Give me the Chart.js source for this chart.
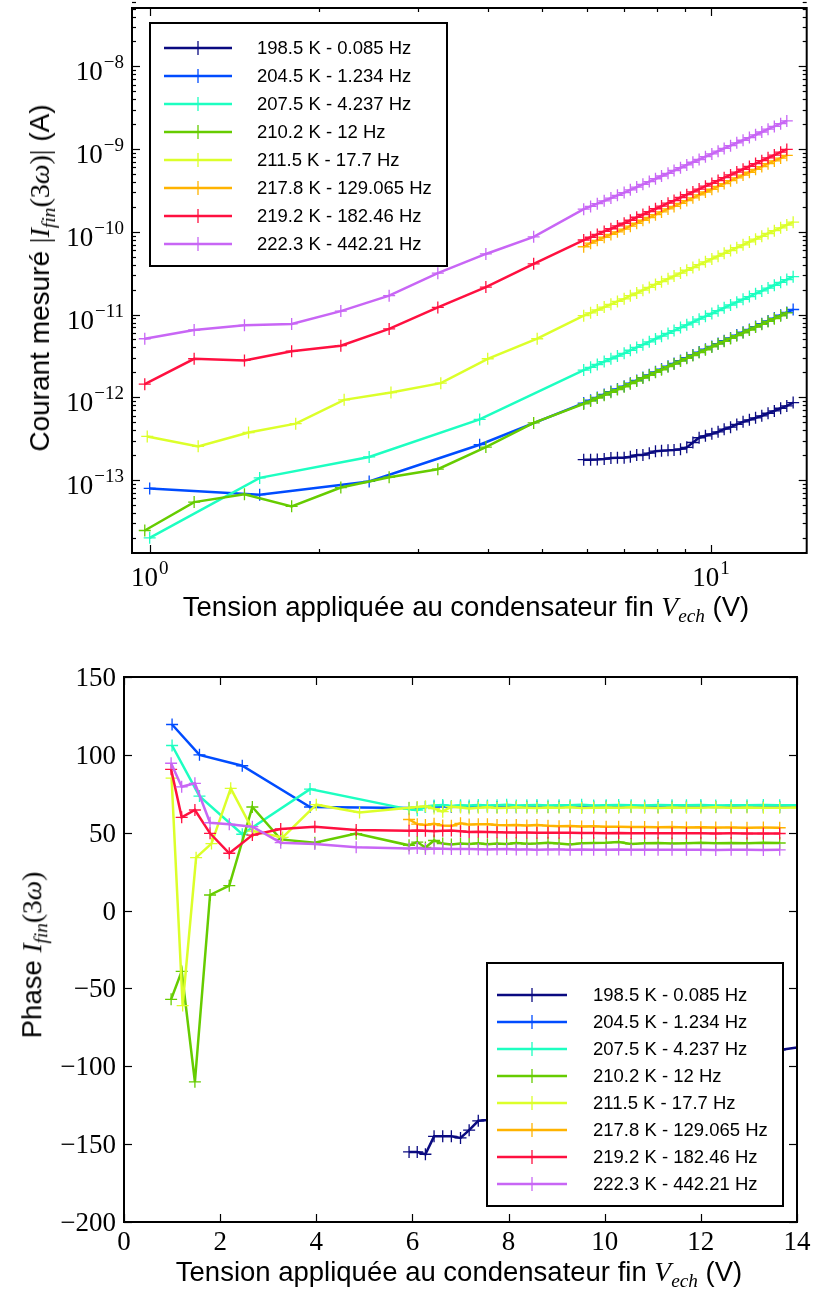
<!DOCTYPE html>
<html>
<head>
<meta charset="utf-8">
<script src="https://cdn.jsdelivr.net/npm/chart.js@4.4.0/dist/chart.umd.min.js"></script>
<style>
  body { margin: 0; background: #fff; width: 814px; height: 1291px; position: relative; overflow: hidden; }
  canvas { position: absolute; left: 0; }
  .ttl { position: absolute; font-family: "Liberation Sans", Arial, sans-serif; font-size: 27.5px; color: #000; white-space: nowrap; line-height: 1; }
  .rot { transform: translate(-50%, -50%) rotate(-90deg); }
  .hc { transform: translate(-50%, -50%); }
  .m { font-family: "Liberation Serif", serif; }
  .m i { font-style: italic; }
  .m sub { font-size: 0.7em; vertical-align: -0.3em; line-height: 0; }
</style>
</head>
<body>
<canvas id="amp" width="814" height="640" style="top:0"></canvas>
<canvas id="phase" width="814" height="651" style="top:640px"></canvas>

<div class="ttl rot" style="left:40px; top:278px; font-size:28px">Courant mesuré <span class="m">|<i>I</i><sub><i>fin</i></sub>(3<i>ω</i>)|</span> (A)</div>
<div class="ttl hc" style="left:466px; top:607px">Tension appliquée au condensateur fin <span class="m"><i>V</i><sub><i>ech</i></sub></span> (V)</div>
<div class="ttl rot" style="left:32px; top:955px">Phase <span class="m"><i>I</i><sub><i>fin</i></sub>(3<i>ω</i>)</span></div>
<div class="ttl hc" style="left:459px; top:1272px">Tension appliquée au condensateur fin <span class="m"><i>V</i><sub><i>ech</i></sub></span> (V)</div>

<script>
// series labels and colours
const labels = ["198.5 K - 0.085 Hz", "204.5 K - 1.234 Hz", "207.5 K - 4.237 Hz", "210.2 K - 12 Hz",
                "211.5 K - 17.7 Hz", "217.8 K - 129.065 Hz", "219.2 K - 182.46 Hz", "222.3 K - 442.21 Hz"];
const colors = ["#0a0a80", "#004cff", "#1dffc1", "#66cc00", "#dcff2a", "#ffb300", "#ff1040", "#c866f5"];

// applied voltages (V)
const vLowBC = [1.0, 1.57, 2.46, 3.87];
const vLowGRP = [0.98, 1.2, 1.475, 1.79, 2.19, 2.67, 3.26, 3.97, 4.83];
const vLowY = [0.99, 1.22, 1.5, 1.82, 2.22, 2.69, 3.3, 4.0, 4.9];
const denseV = [5.93, 6.10, 6.27, 6.45, 6.63, 6.81, 7.00, 7.18, 7.37, 7.56, 7.76, 7.96, 8.16, 8.38, 8.59, 8.82, 9.05,
                9.28, 9.52, 9.77, 10.03, 10.29, 10.55, 10.83, 11.11, 11.40, 11.70, 12.00, 12.31, 12.63, 12.96, 13.30, 13.64, 14.00];

// measured current |I_fin(3w)| (A)
const ampNavy = [1.76e-13, 1.76e-13, 1.77e-13, 1.79e-13, 1.84e-13, 1.86e-13, 1.86e-13, 1.91e-13, 2.0e-13, 2.0e-13,
  2.11e-13, 2.23e-13, 2.25e-13, 2.28e-13, 2.3e-13, 2.36e-13, 2.48e-13, 2.84e-13, 3.24e-13, 3.42e-13,
  3.61e-13, 3.82e-13, 4.11e-13, 4.35e-13, 4.69e-13, 5.05e-13, 5.33e-13, 5.64e-13, 5.96e-13, 6.41e-13,
  6.84e-13, 7.36e-13, 7.86e-13, 8.63e-13];
const ampBlue = [7.9e-14, 6.65e-14, 9.6e-14, 2.67e-13,
  8.51e-13, 9.20e-13, 9.96e-13, 1.08e-12, 1.17e-12, 1.26e-12, 1.36e-12, 1.48e-12, 1.60e-12, 1.73e-12,
  1.87e-12, 2.03e-12, 2.19e-12, 2.37e-12, 2.56e-12, 2.78e-12, 3.01e-12, 3.25e-12, 3.52e-12, 3.81e-12,
  4.12e-12, 4.46e-12, 4.82e-12, 5.22e-12, 5.65e-12, 6.11e-12, 6.61e-12, 7.16e-12, 7.74e-12, 8.38e-12,
  9.06e-12, 9.81e-12, 1.06e-11, 1.15e-11];
const ampCyan = [2.0e-14, 1.06e-13, 1.9e-13, 5.4e-13,
  2.13e-12, 2.30e-12, 2.49e-12, 2.70e-12, 2.92e-12, 3.15e-12, 3.40e-12, 3.70e-12, 4.0e-12, 4.32e-12,
  4.68e-12, 5.07e-12, 5.48e-12, 5.92e-12, 6.40e-12, 6.95e-12, 7.52e-12, 8.12e-12, 8.80e-12, 9.52e-12,
  1.03e-11, 1.115e-11, 1.205e-11, 1.305e-11, 1.41e-11, 1.53e-11, 1.65e-11, 1.79e-11, 1.93e-11, 2.09e-11,
  2.26e-11, 2.45e-11, 2.65e-11, 2.87e-11];
const ampGreen = [2.45e-14, 5.4e-14, 6.7e-14, 4.8e-14, 8.1e-14, 1.08e-13, 1.35e-13, 2.5e-13, 4.9e-13,
  8.3e-13, 9.0e-13, 9.8e-13, 1.06e-12, 1.15e-12, 1.24e-12, 1.34e-12, 1.46e-12, 1.57e-12, 1.71e-12,
  1.84e-12, 2.0e-12, 2.15e-12, 2.34e-12, 2.52e-12, 2.74e-12, 2.96e-12, 3.2e-12, 3.47e-12, 3.75e-12,
  4.06e-12, 4.4e-12, 4.75e-12, 5.15e-12, 5.56e-12, 6.02e-12, 6.5e-12, 7.05e-12, 7.62e-12, 8.25e-12,
  8.92e-12, 9.66e-12, 1.045e-11];
const ampYellow = [3.36e-13, 2.55e-13, 3.75e-13, 4.8e-13, 9.3e-13, 1.14e-12, 1.48e-12, 2.92e-12, 5.1e-12,
  9.7e-12, 1.05e-11, 1.135e-11, 1.23e-11, 1.33e-11, 1.44e-11, 1.55e-11, 1.69e-11, 1.82e-11, 1.97e-11,
  2.13e-11, 2.31e-11, 2.50e-11, 2.70e-11, 2.92e-11, 3.17e-11, 3.43e-11, 3.70e-11, 4.01e-11, 4.34e-11,
  4.70e-11, 5.08e-11, 5.49e-11, 5.95e-11, 6.44e-11, 6.97e-11, 7.54e-11, 8.16e-11, 8.82e-11, 9.55e-11,
  1.033e-10, 1.118e-10, 1.21e-10, 1.31e-10];
const ampOrange = [6.6e-11, 7.3e-11, 7.9e-11, 8.6e-11, 9.3e-11, 1.0e-10, 1.08e-10, 1.17e-10, 1.27e-10, 1.38e-10,
  1.49e-10, 1.61e-10, 1.74e-10, 1.89e-10, 2.03e-10, 2.21e-10, 2.39e-10, 2.58e-10, 2.80e-10, 3.03e-10,
  3.27e-10, 3.54e-10, 3.83e-10, 4.15e-10, 4.49e-10, 4.85e-10, 5.25e-10, 5.69e-10, 6.15e-10, 6.66e-10,
  7.20e-10, 7.79e-10, 8.42e-10];
const ampRed = [1.44e-12, 2.92e-12, 2.79e-12, 3.6e-12, 4.2e-12, 6.7e-12, 1.22e-11, 2.15e-11, 4.1e-11,
  7.96e-11, 8.60e-11, 9.31e-11, 1.01e-10, 1.09e-10, 1.18e-10, 1.27e-10, 1.38e-10, 1.50e-10, 1.62e-10,
  1.75e-10, 1.90e-10, 2.05e-10, 2.22e-10, 2.39e-10, 2.60e-10, 2.81e-10, 3.04e-10, 3.29e-10, 3.56e-10,
  3.85e-10, 4.17e-10, 4.51e-10, 4.88e-10, 5.28e-10, 5.71e-10, 6.18e-10, 6.69e-10, 7.24e-10, 7.84e-10,
  8.47e-10, 9.17e-10, 9.91e-10];
const ampPurple = [5.1e-12, 6.5e-12, 7.4e-12, 7.7e-12, 1.1e-11, 1.69e-11, 3.16e-11, 5.4e-11, 8.7e-11,
  1.88e-10, 2.03e-10, 2.19e-10, 2.37e-10, 2.56e-10, 2.76e-10, 2.98e-10, 3.22e-10, 3.48e-10, 3.75e-10,
  4.05e-10, 4.38e-10, 4.73e-10, 5.10e-10, 5.51e-10, 5.95e-10, 6.43e-10, 6.94e-10, 7.49e-10, 8.09e-10,
  8.74e-10, 9.44e-10, 1.02e-9, 1.10e-9, 1.19e-9, 1.28e-9, 1.38e-9, 1.49e-9, 1.61e-9, 1.74e-9,
  1.88e-9, 2.03e-9, 2.19e-9];

// phase of I_fin(3w) (degrees)
const phNavy = [-155, -155, -156.5, -145, -145, -145, -146, -141, -135, -134.5,
  -132, -130, -128, -125, -123, -121, -118, -116, -114, -112,
  -110, -108, -106, -104, -102, -100, -99, -97, -95, -94,
  -92, -91, -89.5, -88];
const phBlue = [119.5, 100, 93, 66.5,
  65.8, 66.2, 66.5, 66.8, 67, 66.5, 66.8, 66.4, 66.6, 66.8, 66.5, 66.7, 66.4, 66.6, 66.8, 66.5, 66.7,
  66.6, 66.4, 66.6, 66.8, 66.5, 66.7, 66.6, 66.5, 66.7, 66.6, 66.8, 66.5, 66.7, 66.6, 66.7, 66.5, 66.6];
const phCyan = [106, 73.5, 49, 78,
  65, 64.5, 66.5, 67.5, 67.8, 67.2, 67.6, 67.4, 67.8, 67.5, 67.7, 67.9, 67.4, 67.6, 67.8, 67.5, 67.7,
  67.6, 67.9, 67.5, 67.7, 67.8, 67.6, 67.5, 67.8, 67.7, 67.6, 67.8, 67.5, 67.7, 67.6, 67.8, 67.6, 67.7];
const phGreen = [-57, -39, -110, 10, 16, 66.5, 45.7, 43.6, 49.4,
  41.9, 44, 40.5, 45, 43, 42.5, 43, 42.8, 43.2, 42.6, 43, 42.8, 43.4, 42.9, 43.1, 43.6, 43, 42.5,
  43.2, 43.4, 43.6, 44, 42.8, 43.2, 43.4, 43.1, 43.3, 43.5, 43.2, 43.4, 43.3, 43.5, 43.4];
const phYellow = [85, -61, 34, 43, 78.5, 51, 47, 68, 63,
  66, 66.5, 67, 65.5, 63.5, 66.8, 66.2, 65.6, 66, 66.4, 65.8, 66, 66.3, 66.1, 65.9, 66.2, 66, 66.3,
  65.9, 66.1, 66.2, 66, 66.3, 66.1, 65.9, 66.2, 66, 66.1, 66.3, 66, 66.2, 66.1, 66, 66.2];
const phOrange = [58.5, 55.5, 55, 55.8, 54.6, 54.4, 56, 55.2, 55.4, 55.5, 55, 54.8, 55, 54.6, 55, 54.5,
  54.2, 54.3, 54, 54.1, 53.8, 53.9, 53.6, 53.7, 53.5, 53.6, 53.4, 53.5, 53.3, 53.4, 53.2, 53.3, 53.2];
const phRed = [90.7, 59.9, 64.6, 49.6, 36.8, 48.5, 52.4, 53.9, 51.7,
  51.3, 51.5, 51.2, 51, 51.2, 51.4, 51, 50.5, 50.6, 50.4, 50.3, 50.2, 50.1, 50.1, 50, 50, 49.9, 49.9,
  49.8, 49.8, 49.7, 49.8, 49.7, 49.6, 49.6, 49.7, 49.6, 49.6, 49.5, 49.6, 49.5, 49.5, 49.5];
const phPurple = [94.6, 79.5, 81.7, 56.4, 55.4, 53.9, 43.6, 42.7, 40.6,
  39.8, 40.2, 39.6, 39.9, 39.7, 39.5, 39.6, 39.5, 39.4, 39.3, 39.4, 39.5, 39.2, 39.3, 39.1, 39.2, 39.3,
  39.1, 39.2, 39.1, 39.0, 39.2, 39.1, 39.0, 39.1, 39.0, 39.1, 39.0, 38.9, 39.0, 39.0, 38.9, 39.0];

const lowV = [[], vLowBC, vLowBC, vLowGRP, vLowY, [], vLowGRP, vLowGRP];
const amps = [ampNavy, ampBlue, ampCyan, ampGreen, ampYellow, ampOrange, ampRed, ampPurple];
const phases = [phNavy, phBlue, phCyan, phGreen, phYellow, phOrange, phRed, phPurple];

function makeSets(values) {
  return values.map((vals, i) => {
    const xs = lowV[i].concat(denseV);
    return {
      label: labels[i],
      data: vals.map((v, k) => ({ x: xs[k], y: v })),
      borderColor: colors[i],
      backgroundColor: colors[i],
      borderWidth: 2.5,
      pointStyle: "cross",
      pointRadius: 6,
      pointBorderWidth: 1.3,
      pointBorderColor: colors[i],
      fill: false,
      tension: 0,
      order: values.length - 1 - i
    };
  });
}

const SERIF = '"Liberation Serif", "DejaVu Serif", serif';
const SANS = '"Liberation Sans", Arial, sans-serif';

function drawLabel(ctx, parts, x, y, align) {
  const fs = 27, es = 19;
  ctx.font = fs + "px " + SERIF;
  const wb = ctx.measureText(parts[0]).width;
  ctx.font = es + "px " + SERIF;
  const we = parts[1] ? ctx.measureText(parts[1]).width + 1 : 0;
  const total = wb + we;
  const x0 = align === "right" ? x - total : x - total / 2;
  ctx.textAlign = "left";
  ctx.textBaseline = "alphabetic";
  ctx.font = fs + "px " + SERIF;
  ctx.fillText(parts[0], x0, y);
  if (parts[1]) {
    ctx.font = es + "px " + SERIF;
    ctx.fillText(parts[1], x0 + wb + 1, y - 12);
  }
}

// frame, inward ticks, tick labels and legend, matplotlib style
const axisDeco = {
  id: "axisDeco",
  afterDraw(chart, args, o) {
    const { ctx, chartArea: a } = chart;
    const sx = chart.scales.x, sy = chart.scales.y;
    ctx.save();
    ctx.strokeStyle = "#000";
    ctx.fillStyle = "#000";
    ctx.lineWidth = 1.2;
    const seg = (x1, y1, x2, y2) => { ctx.beginPath(); ctx.moveTo(x1, y1); ctx.lineTo(x2, y2); ctx.stroke(); };
    const xt = (vals, len) => vals.forEach(v => {
      const p = Math.round(sx.getPixelForValue(v)) + 0.5;
      seg(p, a.bottom, p, a.bottom - len); seg(p, a.top, p, a.top + len);
    });
    const yt = (vals, len) => vals.forEach(v => {
      const p = Math.round(sy.getPixelForValue(v)) + 0.5;
      seg(a.left, p, a.left + len, p); seg(a.right, p, a.right - len, p);
    });
    xt(o.xMajor, 8); xt(o.xMinor || [], 4);
    yt(o.yMajor, 8); yt(o.yMinor || [], 4);
    ctx.lineWidth = 2;
    ctx.strokeRect(a.left, a.top, a.right - a.left, a.bottom - a.top);

    o.xMajor.forEach(v => drawLabel(ctx, o.xLabel(v), sx.getPixelForValue(v), a.bottom + o.xOff, "center"));
    o.yMajor.forEach(v => drawLabel(ctx, o.yLabel(v), a.left - 8, sy.getPixelForValue(v) + o.yOff, "right"));

    const L = o.legend;
    ctx.fillStyle = "#fff";
    ctx.fillRect(L.x, L.y, L.w, L.h);
    ctx.strokeStyle = "#000";
    ctx.lineWidth = 2;
    ctx.strokeRect(L.x, L.y, L.w, L.h);
    ctx.font = "18.5px " + SANS;
    ctx.textBaseline = "middle";
    ctx.textAlign = "left";
    labels.forEach((t, i) => {
      const ry = L.row0 + i * L.step;
      ctx.strokeStyle = colors[i];
      ctx.lineWidth = 2.5;
      seg(L.x0, ry, L.x1, ry);
      ctx.lineWidth = 1.3;
      const mx = (L.x0 + L.x1) / 2;
      seg(mx, ry - 7, mx, ry + 7);
      ctx.fillStyle = "#000";
      ctx.fillText(t, L.tx, ry + 1);
    });
    ctx.restore();
  }
};

const decades = [1e-14, 1e-13, 1e-12, 1e-11, 1e-10, 1e-9, 1e-8];
const minorY = [];
decades.forEach(d => { for (let k = 2; k <= 9; k++) minorY.push(k * d); });
const supMinus = v => ["10", "\u2212" + Math.round(-Math.log10(v))];

new Chart(document.getElementById("amp"), {
  type: "line",
  data: { datasets: makeSets(amps) },
  plugins: [axisDeco],
  options: {
    responsive: false,
    animation: false,
    layout: { padding: { top: 8, right: 6, left: 0, bottom: 0 } },
    plugins: {
      legend: { display: false },
      tooltip: { enabled: false },
      axisDeco: {
        xMajor: [1, 10],
        xMinor: [2, 3, 4, 5, 6, 7, 8, 9],
        yMajor: [1e-13, 1e-12, 1e-11, 1e-10, 1e-9, 1e-8],
        yMinor: minorY,
        xLabel: v => ["10", String(Math.round(Math.log10(v)))],
        yLabel: supMinus,
        xOff: 33,
        yOff: 14,
        legend: { x: 150, y: 23, w: 297, h: 243, row0: 48, step: 28, x0: 164, x1: 232, tx: 257 }
      }
    },
    scales: {
      x: {
        type: "logarithmic", min: 0.93, max: 14.8,
        ticks: { display: false }, grid: { display: false }, border: { display: false },
        afterFit: s => { s.height = 87; }
      },
      y: {
        type: "logarithmic", min: 1.31e-14, max: 5.08e-8,
        ticks: { display: false }, grid: { display: false }, border: { display: false },
        afterFit: s => { s.width = 132; }
      }
    }
  }
});

const neg = v => [v < 0 ? "\u2212" + (-v) : String(v), ""];

new Chart(document.getElementById("phase"), {
  type: "line",
  data: { datasets: makeSets(phases) },
  plugins: [axisDeco],
  options: {
    responsive: false,
    animation: false,
    layout: { padding: { top: 37, right: 17, left: 0, bottom: 0 } },
    plugins: {
      legend: { display: false },
      tooltip: { enabled: false },
      axisDeco: {
        xMajor: [0, 2, 4, 6, 8, 10, 12, 14],
        yMajor: [-200, -150, -100, -50, 0, 50, 100, 150],
        xLabel: neg,
        yLabel: neg,
        xOff: 28,
        yOff: 9,
        legend: { x: 487, y: 323, w: 296, h: 243, row0: 355, step: 27, x0: 497, x1: 567, tx: 593 }
      }
    },
    scales: {
      x: {
        type: "linear", min: 0, max: 14,
        ticks: { display: false }, grid: { display: false }, border: { display: false },
        afterFit: s => { s.height = 69; }
      },
      y: {
        type: "linear", min: -200, max: 150,
        ticks: { display: false }, grid: { display: false }, border: { display: false },
        afterFit: s => { s.width = 124; }
      }
    }
  }
});
</script>
</body>
</html>
